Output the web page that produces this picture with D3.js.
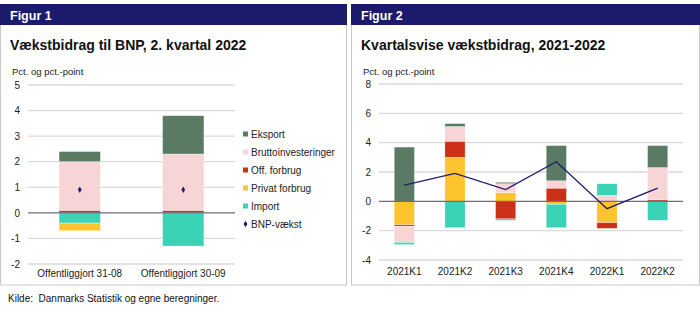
<!DOCTYPE html>
<html>
<head>
<meta charset="utf-8">
<script src="https://cdn.jsdelivr.net/npm/d3@7"></script>
<style>
  body { margin: 0; background: #fff; }
  svg { font-family: "Liberation Sans", Arial, sans-serif; display: block; }
</style>
</head>
<body>
<svg id="chart" width="700" height="336"></svg>
<script>
// Figur 1 data
var fig1Cats = ['Offentliggjort 31-08', 'Offentliggjort 30-09'];
var fig1Import = [-0.4, -1.3];
var fig1Privat = [-0.3, 0];
var fig1Off = [0.1, 0.1];
var fig1Brutto = [1.9, 2.2];
var fig1Eksport = [0.4, 1.5];
var fig1Bnp = [0.9, 0.9];
var fig1Ticks = [-2, -1, 0, 1, 2, 3, 4, 5];

// Figur 2 data
var fig2Cats = ['2021K1', '2021K2', '2021K3', '2021K4', '2022K1', '2022K2'];
var fig2Privat = [-1.6, 3.0, 0.6, -0.2, -1.45, 0];
var fig2Off = [-0.1, 1.1, -1.2, 0.9, -0.4, 0.1];
var fig2Brutto = [-1.1, 1.0, 0.6, 0.5, 0.4, 2.2];
var fig2Eksport = [3.7, 0.2, 0.1, 2.4, 0, 1.5];
var fig2Import = [-0.15, -1.8, -0.1, -1.6, 0.8, -1.3];
var fig2Bnp = [1.1, 1.9, 0.8, 2.7, -0.5, 0.9];
var fig2Ticks = [-4, -2, 0, 2, 4, 6, 8];

var colors = {
  Eksport: '#5b7a64',
  Bruttoinvesteringer: '#f7d4d6',
  'Off. forbrug': '#cc3118',
  'Privat forbrug': '#fec42d',
  Import: '#3ad3b6'
};
var navy = '#1c1c6e';

var svg = d3.select('#chart');

// panel frames + headers
function panel(x0, x1, label, title) {
  svg.append('rect').attr('x', x0 + 0.5).attr('y', 4.5)
    .attr('width', x1 - x0 - 1).attr('height', 280.5)
    .attr('fill', 'none').attr('stroke', '#c8c8c8');
  svg.append('rect').attr('x', x0).attr('y', 4)
    .attr('width', x1 - x0).attr('height', 21).attr('fill', '#1b1a6c');
  svg.append('text').attr('x', x0 + 10).attr('y', 19.5)
    .attr('fill', '#fff').attr('font-weight', 'bold').attr('font-size', 12.5)
    .text(label);
  svg.append('text').attr('x', x0 + 10).attr('y', 50)
    .attr('fill', '#111').attr('font-weight', 'bold').attr('font-size', 14)
    .text(title);
  svg.append('text').attr('x', x0 + 12).attr('y', 75)
    .attr('fill', '#222').attr('font-size', 9.5)
    .text('Pct. og pct.-point');
}
panel(0, 347, 'Figur 1', 'Vækstbidrag til BNP, 2. kvartal 2022');
panel(351, 700, 'Figur 2', 'Kvartalsvise vækstbidrag, 2021-2022');

svg.append('text').attr('x', 8).attr('y', 302)
  .attr('font-size', 10).attr('fill', '#111')
  .attr('xml:space', 'preserve')
  .text('Kilde:  Danmarks Statistik og egne beregninger.');

function drawChart(opts) {
  var g = svg.append('g');
  var x = d3.scaleBand().domain(opts.cats).range(opts.xr).paddingInner(0.6).paddingOuter(0.3);
  var y = d3.scaleLinear().domain(opts.dom).range(opts.yr);

  // gridlines
  g.selectAll('.grid').data(opts.ticks.filter(function(t) { return t !== 0; }))
    .enter().append('line')
    .attr('x1', opts.xr[0]).attr('x2', opts.xr[1])
    .attr('y1', function(d) { return y(d); }).attr('y2', function(d) { return y(d); })
    .attr('stroke', '#d9d9d9').attr('stroke-width', 1.3);

  // plain hyphen for negatives, like the original
  var yAxis = g.append('g').attr('transform', 'translate(' + opts.labelX + ',0)')
    .call(d3.axisLeft(y).tickValues(opts.ticks).tickFormat(function(d) { return String(d); })
      .tickSize(0).tickPadding(0));
  yAxis.select('.domain').remove();
  yAxis.selectAll('text').attr('font-size', 10).attr('fill', '#222')
    .attr('font-family', '"Liberation Sans", Arial, sans-serif');

  // stacked bars
  var rows = opts.cats.map(function(c, i) {
    var r = { cat: c };
    opts.keys.forEach(function(k) { r[k] = opts.series[k][i]; });
    return r;
  });
  var stack = d3.stack().keys(opts.keys).offset(d3.stackOffsetDiverging)(rows);
  var bw = x.bandwidth();
  g.selectAll('.layer').data(stack).enter().append('g')
    .attr('fill', function(d) { return colors[d.key]; })
    .selectAll('rect').data(function(d) { return d; }).enter().append('rect')
    .attr('x', function(d) { return x(d.data.cat); })
    .attr('width', bw)
    .attr('y', function(d) { return y(Math.max(d[0], d[1])); })
    .attr('height', function(d) { return Math.abs(y(d[0]) - y(d[1])); })
    .attr('stroke', 'rgba(255,255,255,0.6)').attr('stroke-width', 0.6);

  // zero line
  g.append('line').attr('x1', opts.xr[0]).attr('x2', opts.xr[1])
    .attr('y1', y(0)).attr('y2', y(0))
    .attr('stroke', '#6e6e78').attr('stroke-width', 1.2);

  // x labels
  var xAxis = g.append('g').attr('transform', 'translate(0,' + opts.xLabelY + ')')
    .call(d3.axisBottom(x).tickSize(0).tickPadding(0));
  xAxis.select('.domain').remove();
  xAxis.selectAll('text').attr('font-size', 10).attr('fill', '#222')
    .attr('font-family', '"Liberation Sans", Arial, sans-serif');

  return { g: g, x: x, y: y };
}

var c1 = drawChart({
  cats: fig1Cats, xr: [28, 235], dom: [-2, 5], yr: [264, 85], ticks: fig1Ticks,
  labelX: 20, xLabelY: 270,
  keys: ['Import', 'Privat forbrug', 'Off. forbrug', 'Bruttoinvesteringer', 'Eksport'],
  series: { Import: fig1Import, 'Privat forbrug': fig1Privat, 'Off. forbrug': fig1Off,
            Bruttoinvesteringer: fig1Brutto, Eksport: fig1Eksport }
});
var diamond = d3.symbol().type(d3.symbolDiamond).size(12);
c1.g.selectAll('.bnp').data(fig1Bnp).enter().append('path')
  .attr('d', diamond)
  .attr('transform', function(d, i) {
    return 'translate(' + (c1.x(fig1Cats[i]) + c1.x.bandwidth() / 2) + ',' + c1.y(d) + ')';
  })
  .attr('fill', navy);

// legend figur 1
var legendItems = ['Eksport', 'Bruttoinvesteringer', 'Off. forbrug', 'Privat forbrug', 'Import', 'BNP-vækst'];
var lg = svg.append('g');
legendItems.forEach(function(name, i) {
  var ly = 134 + i * 18;
  if (name === 'BNP-vækst') {
    lg.append('path').attr('d', diamond).attr('transform', 'translate(245.5,' + ly + ')').attr('fill', navy);
  } else {
    lg.append('rect').attr('x', 243).attr('y', ly - 2.5).attr('width', 5).attr('height', 5)
      .attr('fill', colors[name]);
  }
  lg.append('text').attr('x', 251).attr('y', ly + 3.5).attr('font-size', 10).attr('fill', '#222').text(name);
});

var c2 = drawChart({
  cats: fig2Cats, xr: [379, 683], dom: [-4, 8], yr: [260, 84], ticks: fig2Ticks,
  labelX: 371, xLabelY: 268,
  keys: ['Privat forbrug', 'Off. forbrug', 'Bruttoinvesteringer', 'Eksport', 'Import'],
  series: { Import: fig2Import, 'Privat forbrug': fig2Privat, 'Off. forbrug': fig2Off,
            Bruttoinvesteringer: fig2Brutto, Eksport: fig2Eksport }
});
var line = d3.line()
  .x(function(d, i) { return c2.x(fig2Cats[i]) + c2.x.bandwidth() / 2; })
  .y(function(d) { return c2.y(d); });
c2.g.append('path').datum(fig2Bnp).attr('d', line)
  .attr('fill', 'none').attr('stroke', navy).attr('stroke-width', 1.3);
</script>
</body>
</html>
